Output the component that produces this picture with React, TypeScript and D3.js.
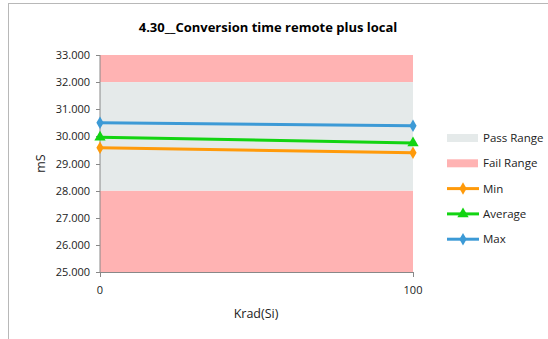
import * as d3 from 'd3'

const xCats = [0, 100]
const minVals = [29.58, 29.4]
const avgVals = [29.97, 29.76]
const maxVals = [30.5, 30.39]
const passRange = [28, 32]
const failRanges = [[25, 28], [32, 33]]
const yTicks = [25, 26, 27, 28, 29, 30, 31, 32, 33]

const W = 548
const H = 339
const margin = { left: 100, right: 135, top: 55, bottom: 67 }
const FONT = "'Open Sans', 'Noto Sans', sans-serif"

const series = [
  { name: 'Min', values: minVals, color: '#FF9A0A', marker: 'diamond' },
  { name: 'Average', values: avgVals, color: '#12D412', marker: 'triangle' },
  { name: 'Max', values: maxVals, color: '#3C9AD6', marker: 'diamond' },
]

function Marker({ type, x, y, color }: { type: string; x: number; y: number; color: string }) {
  const sym = type === 'triangle' ? d3.symbolTriangle : d3.symbolDiamond
  const size = type === 'triangle' ? 55 : 45
  const path = d3.symbol().type(sym).size(size)() ?? ''
  return <path d={path} transform={`translate(${x},${y})`} fill={color} />
}

export default function App() {
  const x = d3.scaleLinear().domain([0, 100]).range([margin.left, W - margin.right])
  const y = d3.scaleLinear().domain([25, 33]).range([H - margin.bottom, margin.top])
  const line = d3.line<number>().x((_, i) => x(xCats[i])).y((d) => y(d))

  const legendX = 447
  const legendItems = [
    { label: 'Pass Range', kind: 'box', color: '#E5EAEA' },
    { label: 'Fail Range', kind: 'box', color: '#FFB3B3' },
    ...series.map((s) => ({ label: s.name, kind: 'line', color: s.color, marker: s.marker })),
  ]

  return (
    <svg width={W} height={H} style={{ position: 'absolute', left: 0, top: 0, fontFamily: FONT }}>
      <rect x={0} y={0} width={W} height={H} fill="#fff" />
      <rect x={8.5} y={3.5} width={W + 10} height={H + 10} fill="none" stroke="#B8B8B8" strokeWidth={1} />

      <text x={268} y={32} textAnchor="middle" fontSize={13} fontWeight="bold" fill="#000">
        4.30__Conversion time remote plus local
      </text>

      {/* bands */}
      {failRanges.map((r, i) => (
        <rect key={i} x={x(0)} width={x(100) - x(0)} y={y(r[1])} height={y(r[0]) - y(r[1])} fill="#FFB3B3" />
      ))}
      <rect x={x(0)} width={x(100) - x(0)} y={y(passRange[1])} height={y(passRange[0]) - y(passRange[1])} fill="#E5EAEA" />

      {/* axes */}
      <line x1={x(0)} x2={x(0)} y1={y(33)} y2={y(25)} stroke="#888" />
      <line x1={x(0)} x2={x(100)} y1={y(25) + 0.5} y2={y(25) + 0.5} stroke="#888" />
      {yTicks.map((t) => (
        <g key={t}>
          <line x1={x(0) - 4} x2={x(0)} y1={Math.round(y(t)) + 0.5} y2={Math.round(y(t)) + 0.5} stroke="#888" />
          <text x={x(0) - 10} y={y(t) + 4} textAnchor="end" fontSize={11} fill="#222">
            {d3.format('.3f')(t)}
          </text>
        </g>
      ))}
      {xCats.map((c) => (
        <g key={c}>
          <line x1={Math.round(x(c)) + 0.5} x2={Math.round(x(c)) + 0.5} y1={y(25)} y2={y(25) + 5} stroke="#888" />
          <text x={x(c)} y={y(25) + 22} textAnchor="middle" fontSize={11} fill="#222">
            {c}
          </text>
        </g>
      ))}
      <text x={256} y={318} textAnchor="middle" fontSize={12.5} fill="#222">Krad(Si)</text>
      <text transform={`translate(45,${(y(25) + y(33)) / 2}) rotate(-90)`} textAnchor="middle" fontSize={12.5} fill="#222">
        mS
      </text>

      {/* series */}
      {series.map((s) => (
        <g key={s.name}>
          <path d={line(s.values) ?? ''} fill="none" stroke={s.color} strokeWidth={3} />
          {s.values.map((v, i) => (
            <Marker key={i} type={s.marker} x={x(xCats[i])} y={y(v)} color={s.color} />
          ))}
        </g>
      ))}

      {/* legend */}
      {legendItems.map((it, i) => {
        const cy = 138 + i * 25.3
        return (
          <g key={it.label}>
            {it.kind === 'box' ? (
              <rect x={legendX} y={cy - 4} width={31} height={8} fill={it.color} />
            ) : (
              <>
                <line x1={legendX} x2={legendX + 32} y1={cy} y2={cy} stroke={it.color} strokeWidth={3} />
                <Marker type={(it as any).marker} x={legendX + 16} y={cy} color={it.color} />
              </>
            )}
            <text x={legendX + 36} y={cy + 4} fontSize={11.5} fill="#222">{it.label}</text>
          </g>
        )
      })}
    </svg>
  )
}
